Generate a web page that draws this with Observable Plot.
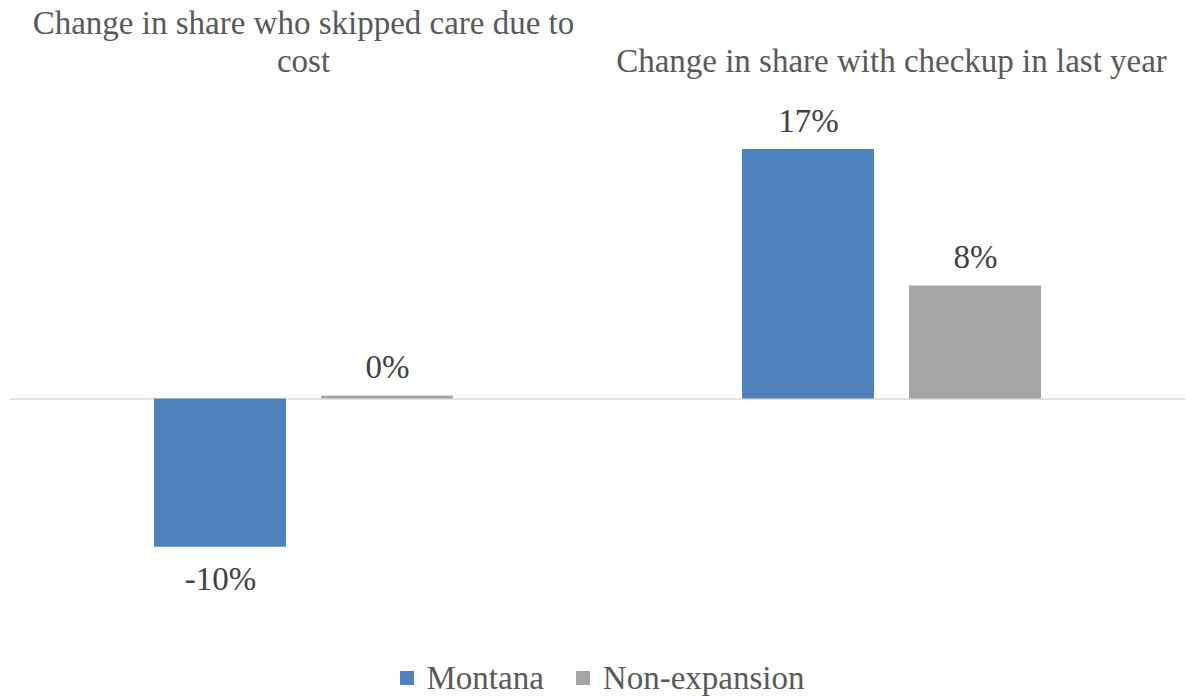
<!DOCTYPE html>
<html>
<head>
<meta charset="utf-8">
<script src="https://cdn.jsdelivr.net/npm/d3@7"></script>
<script src="https://cdn.jsdelivr.net/npm/@observablehq/plot@0.6"></script>
<style>
  body { margin: 0; background: #fff; font-family: "Liberation Serif", serif; }
  #legend { display: flex; justify-content: center; align-items: center; height: 44px; font-size: 33px; color: #595959; padding-left: 18px; }
  #legend .item { display: flex; align-items: center; margin: 0 16px; }
  #legend .sw { width: 14px; height: 14px; margin-right: 13px; }
</style>
</head>
<body>
<div id="chart"></div>
<div id="legend"></div>
<script>
const groups = ["Change in share who skipped care due to cost", "Change in share with checkup in last year"];
const series = ["Montana", "Non-expansion"];
const montana = [-10.1, 17.0];
const nonExpansion = [0.2, 7.7];
const colors = ["#4F81BD", "#A5A5A5"];

const data = [];
groups.forEach((g, i) => {
  data.push({group: g, series: series[0], value: montana[i]});
  data.push({group: g, series: series[1], value: nonExpansion[i]});
});
const fmt = v => Math.round(v) + "%";

const chart = Plot.plot({
  width: 1186,
  height: 656,
  marginLeft: 9,
  marginRight: 1,
  marginTop: 80,
  marginBottom: 0,
  style: {fontFamily: "Liberation Serif, serif", background: "#fff"},
  fx: {domain: groups, padding: 0, axis: null},
  x: {domain: series, paddingInner: 0.21, paddingOuter: 0.865, axis: null},
  y: {domain: [0, 17], range: [398.5, 149], axis: null},
  color: {domain: series, range: colors},
  marks: [
    Plot.ruleY([0], {stroke: "#D9D9D9", strokeWidth: 1.5}),
    Plot.barY(data, {fx: "group", x: "series", y: "value", fill: "series"}),
    Plot.text(data.filter(d => d.value >= 0), {fx: "group", x: "series", y: "value", text: d => fmt(d.value), lineAnchor: "bottom", dy: -18, fontSize: 33, fill: "#404040"}),
    Plot.text(data.filter(d => d.value < 0), {fx: "group", x: "series", y: "value", text: d => fmt(d.value), lineAnchor: "top", dy: 19, fontSize: 33, fill: "#404040"}),
    Plot.text(groups, {fx: d => d, text: d => d, frameAnchor: "top", lineAnchor: "bottom", dy: -9, lineWidth: 21, lineHeight: 1.15, fontSize: 33, fill: "#595959"})
  ]
});
document.getElementById("chart").appendChild(chart);

const legend = document.getElementById("legend");
series.forEach((s, i) => {
  const item = document.createElement("div");
  item.className = "item";
  const sw = document.createElement("span");
  sw.className = "sw";
  sw.style.background = colors[i];
  const t = document.createElement("span");
  t.textContent = s;
  item.appendChild(sw);
  item.appendChild(t);
  legend.appendChild(item);
});
</script>
</body>
</html>
